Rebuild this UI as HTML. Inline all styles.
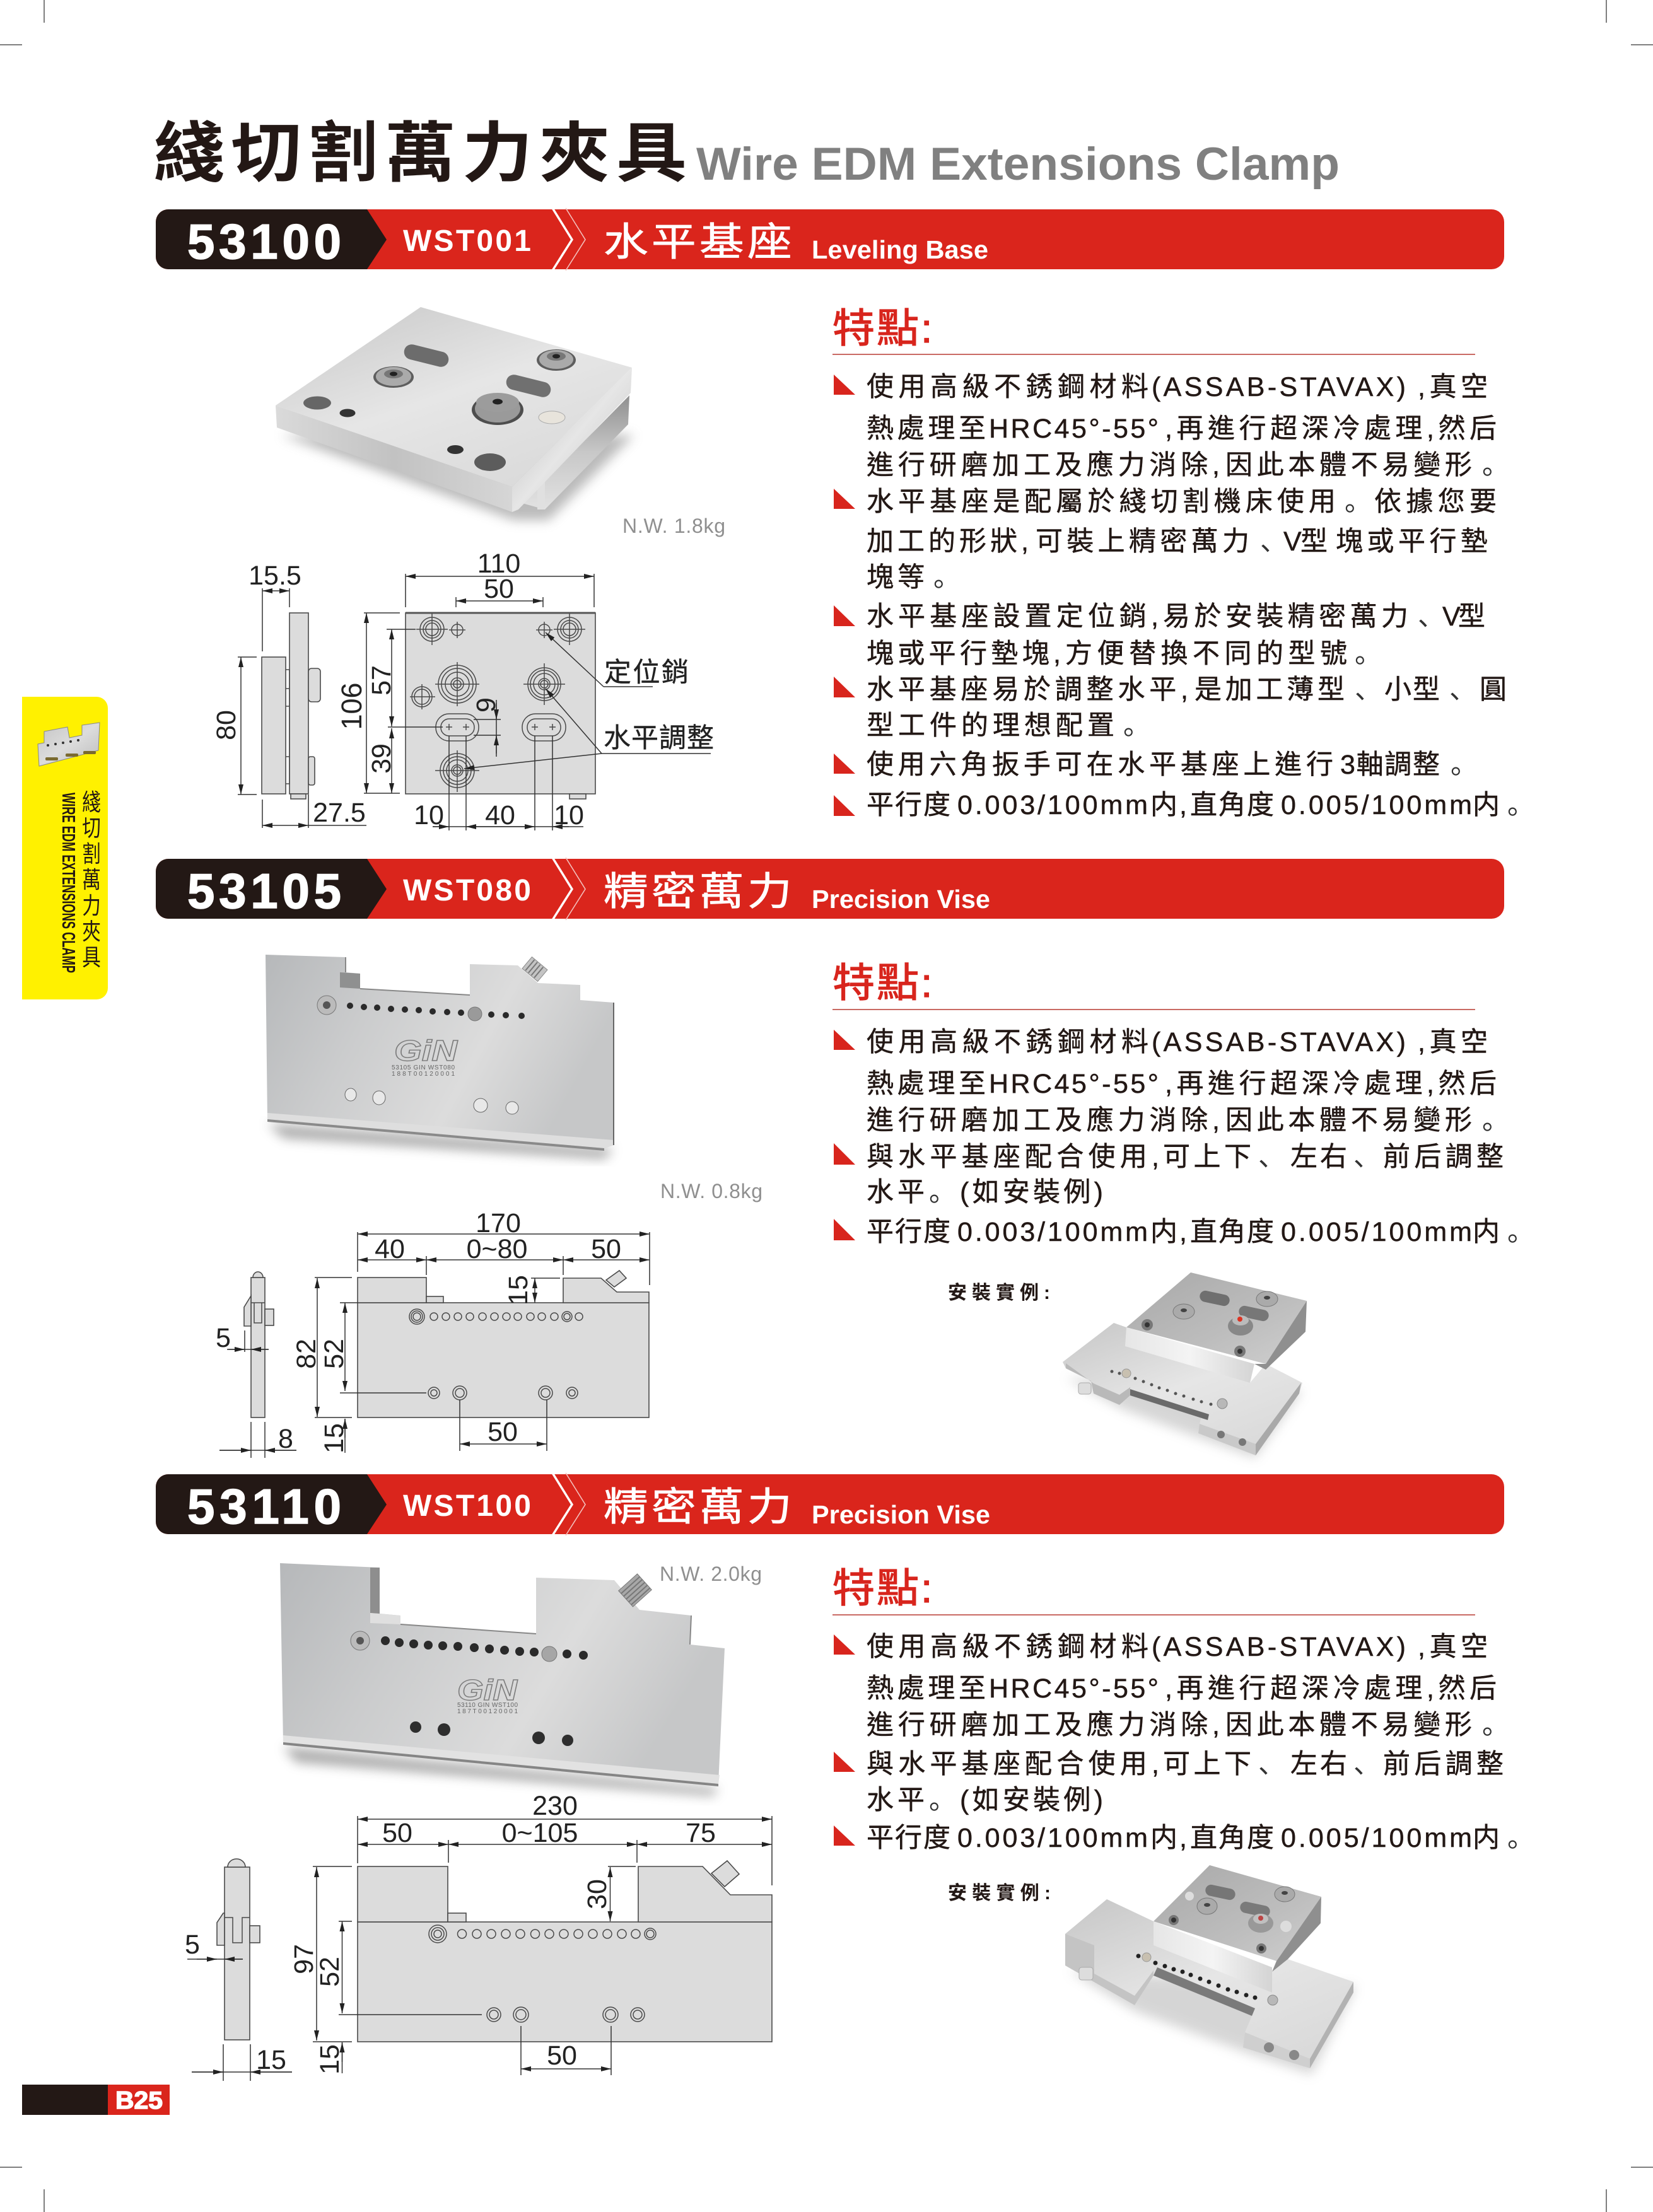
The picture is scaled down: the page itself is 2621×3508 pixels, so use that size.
<!DOCTYPE html>
<html lang="zh-Hant"><head><meta charset="utf-8"><title>Wire EDM Extensions Clamp</title>
<style>
html,body{margin:0;padding:0;background:#fff}
svg{display:block}
text{font-family:"Liberation Sans","Noto Sans CJK TC",sans-serif}
.b{font-size:43px;fill:#231815;stroke:#231815;stroke-width:.5}
.p{font-family:"Noto Sans CJK SC",sans-serif;font-size:43px;fill:#333}
.d{font-size:43px;fill:#222;text-anchor:middle}
.c{font-size:43px;fill:#222;stroke:#222;stroke-width:.4}
.n{font-size:32px;fill:#8f8f8f}
.h{font-size:64px;fill:#d8251d;stroke:#d8251d;stroke-width:1.2}
.w{fill:#fff}
.o{fill:#dcdcdc;stroke:#4a4a4a;stroke-width:1.6}
.r{fill:none;stroke:#4a4a4a;stroke-width:1.5}
.l{fill:none;stroke:#333;stroke-width:1.5}
.a{marker-start:url(#ar);marker-end:url(#ar);fill:none;stroke:#333;stroke-width:1.5}
.e{marker-end:url(#ar);fill:none;stroke:#333;stroke-width:1.5}
.t{fill:#d8251d}
.k{fill:#2a2a2a}
</style></head><body>
<svg width="2621" height="3508" viewBox="0 0 2621 3508">
<defs>
<marker id="ar" markerUnits="userSpaceOnUse" markerWidth="16" markerHeight="8" refX="16" refY="4" orient="auto-start-reverse"><path d="M0,0L16,4L0,8z" fill="#222"/></marker>
<linearGradient id="m1" x1="0" y1="0" x2="1" y2="1"><stop offset="0" stop-color="#c4c4c4"/><stop offset=".5" stop-color="#dcdcdc"/><stop offset="1" stop-color="#bcbcbc"/></linearGradient>
<linearGradient id="m2" x1="0" y1="0" x2="1" y2=".3"><stop offset="0" stop-color="#b6b8ba"/><stop offset=".35" stop-color="#cbcccd"/><stop offset=".7" stop-color="#dcdcdc"/><stop offset="1" stop-color="#c6c7c8"/></linearGradient>
<linearGradient id="m3" x1="0" y1="0" x2="0" y2="1"><stop offset="0" stop-color="#8f8f8f"/><stop offset=".5" stop-color="#c8c8c8"/><stop offset="1" stop-color="#e2e2e2"/></linearGradient>
<linearGradient id="m4" x1="0" y1="0" x2="1" y2="0"><stop offset="0" stop-color="#e6e6e6"/><stop offset=".5" stop-color="#f4f4f4"/><stop offset="1" stop-color="#d4d4d4"/></linearGradient>
<linearGradient id="m5" x1="0" y1="0" x2="1" y2="1"><stop offset="0" stop-color="#a8a8a8"/><stop offset=".6" stop-color="#bdbdbd"/><stop offset="1" stop-color="#cfcfcf"/></linearGradient>
<linearGradient id="m6" x1="0" y1="0" x2=".7" y2="1"><stop offset="0" stop-color="#c6c6c6"/><stop offset=".55" stop-color="#e6e6e6"/><stop offset="1" stop-color="#dadada"/></linearGradient>
<linearGradient id="m7" x1="0" y1="0" x2="1" y2="0"><stop offset="0" stop-color="#dadada"/><stop offset=".5" stop-color="#c2c2c2"/><stop offset="1" stop-color="#d6d6d6"/></linearGradient>
<linearGradient id="m8" x1="0" y1="0" x2="1" y2="1"><stop offset="0" stop-color="#b0b0b0"/><stop offset=".5" stop-color="#e6e6e6"/><stop offset="1" stop-color="#bcbcbc"/></linearGradient>
<filter id="bl" x="-20%" y="-20%" width="140%" height="140%"><feGaussianBlur stdDeviation="9"/></filter>
</defs>

<!-- crop marks -->
<g stroke="#555" stroke-width="1.5">
<path d="M0,71H35M70,0V36M2586,71H2621M2547,0V36M0,3437H35M70,3472V3508M2586,3437H2621M2547,3472V3508"/>
</g>

<!-- title -->
<text transform="translate(244,279) scale(1,.93)" x="0" y="0" font-size="112" font-weight="700" fill="#231815" textLength="845" lengthAdjust="spacing">綫切割萬力夾具</text>
<text x="1104" y="285" font-size="73" font-weight="700" fill="#808080" textLength="1020" lengthAdjust="spacingAndGlyphs">Wire EDM Extensions Clamp</text>

<!-- bar 1 -->
<g>
<rect x="247" y="332" width="2138" height="95" rx="20" fill="#da251c"/>
<path d="M582,332H267a20,20 0 0 0-20,20v55a20,20 0 0 0 20,20H582L613,380z" fill="#231815"/>
<path d="M876,330L907,380L876,429" fill="none" stroke="#fff" stroke-width="3.5"/>
<path d="M897,330L928,380L897,429" fill="none" stroke="#f3c0bc" stroke-width="1.6"/>
<text class="w" x="297" y="410" font-size="78" font-weight="700" stroke="#fff" stroke-width="1.5" textLength="244" lengthAdjust="spacing">53100</text>
<text class="w" x="639" y="398" font-size="48" font-weight="700" textLength="203" lengthAdjust="spacing">WST001</text>
<text class="w" transform="translate(957,405) scale(1.14,1)" font-size="62" stroke="#fff" stroke-width=".8" textLength="262" lengthAdjust="spacing">水平基座</text>
<text class="w" x="1287" y="410" font-size="41" font-weight="700" textLength="280" lengthAdjust="spacingAndGlyphs">Leveling Base</text>
</g>
<!-- bar 2 -->
<g>
<rect x="247" y="1362" width="2138" height="95" rx="20" fill="#da251c"/>
<path d="M582,1362H267a20,20 0 0 0-20,20v55a20,20 0 0 0 20,20H582L613,1410z" fill="#231815"/>
<path d="M876,1360L907,1410L876,1459" fill="none" stroke="#fff" stroke-width="3.5"/>
<path d="M897,1360L928,1410L897,1459" fill="none" stroke="#f3c0bc" stroke-width="1.6"/>
<text class="w" x="297" y="1440" font-size="78" font-weight="700" stroke="#fff" stroke-width="1.5" textLength="244" lengthAdjust="spacing">53105</text>
<text class="w" x="639" y="1428" font-size="48" font-weight="700" textLength="203" lengthAdjust="spacing">WST080</text>
<text class="w" transform="translate(957,1435) scale(1.14,1)" font-size="62" stroke="#fff" stroke-width=".8" textLength="262" lengthAdjust="spacing">精密萬力</text>
<text class="w" x="1287" y="1440" font-size="41" font-weight="700" textLength="283" lengthAdjust="spacingAndGlyphs">Precision Vise</text>
</g>
<!-- bar 3 -->
<g>
<rect x="247" y="2338" width="2138" height="95" rx="20" fill="#da251c"/>
<path d="M582,2338H267a20,20 0 0 0-20,20v55a20,20 0 0 0 20,20H582L613,2386z" fill="#231815"/>
<path d="M876,2336L907,2386L876,2435" fill="none" stroke="#fff" stroke-width="3.5"/>
<path d="M897,2336L928,2386L897,2435" fill="none" stroke="#f3c0bc" stroke-width="1.6"/>
<text class="w" x="297" y="2416" font-size="78" font-weight="700" stroke="#fff" stroke-width="1.5" textLength="244" lengthAdjust="spacing">53110</text>
<text class="w" x="639" y="2404" font-size="48" font-weight="700" textLength="203" lengthAdjust="spacing">WST100</text>
<text class="w" transform="translate(957,2411) scale(1.14,1)" font-size="62" stroke="#fff" stroke-width=".8" textLength="262" lengthAdjust="spacing">精密萬力</text>
<text class="w" x="1287" y="2416" font-size="41" font-weight="700" textLength="283" lengthAdjust="spacingAndGlyphs">Precision Vise</text>
</g>

<!-- side tab -->
<path d="M35,1105H153a18,18 0 0 1 18,18V1567a18,18 0 0 1-18,18H35z" fill="#fff100"/>
<polygon points="60,1180 70,1178 70,1160 107,1153 110,1170 130,1166 130,1150 158,1146 156,1190 62,1215" fill="url(#m1)" stroke="#888" stroke-width="1"/>
<g fill="#333"><circle cx="76" cy="1182" r="2"/><circle cx="88" cy="1180" r="2"/><circle cx="100" cy="1178" r="2"/><circle cx="112" cy="1176" r="2"/><circle cx="124" cy="1174" r="2"/></g>
<g fill="#7a6a30"><rect x="72" y="1201" width="20" height="5" rx="2"/><rect x="104" y="1195" width="20" height="5" rx="2"/><rect x="132" y="1191" width="20" height="5" rx="2"/></g>
<g transform="translate(145,0) scale(.8,1)" font-size="37" fill="#231815" text-anchor="middle">
<text x="0" y="1285">綫</text><text x="0" y="1326">切</text><text x="0" y="1367">割</text><text x="0" y="1408">萬</text><text x="0" y="1449">力</text><text x="0" y="1490">夾</text><text x="0" y="1531">具</text>
</g>
<text transform="translate(99,1257) rotate(90)" font-size="29" font-weight="700" fill="#231815" textLength="286" lengthAdjust="spacingAndGlyphs">WIRE EDM EXTENSIONS CLAMP</text>

<!-- page number -->
<rect x="35" y="3306" width="136" height="48" fill="#231815"/>
<rect x="171" y="3306" width="98" height="48" fill="#da251c"/>
<text x="183" y="3344" font-size="39" font-weight="700" fill="#fff" stroke="#fff" stroke-width="1.5" textLength="75" lengthAdjust="spacingAndGlyphs">B25</text>

<!-- section 1 text -->
<text class="h" transform="translate(1320,543) scale(1.05,1)" textLength="151" lengthAdjust="spacing">特點:</text>
<path d="M1320,562H2339" stroke="#c96a64" stroke-width="2"/>
<g class="t">
<polygon points="1322,594 1322,626 1356,626"/><polygon points="1322,775 1322,807 1356,807"/><polygon points="1322,960 1322,993 1356,993"/><polygon points="1322,1073 1322,1106 1356,1106"/><polygon points="1322,1195 1322,1227 1356,1227"/><polygon points="1322,1261 1322,1294 1356,1294"/>
</g>
<text class="b" x="1374" y="628" textLength="447" lengthAdjust="spacing">使用高級不銹鋼材料</text><text class="b" x="1826" y="628" textLength="403" lengthAdjust="spacing">(ASSAB-STAVAX)</text><text class="b" x="2248" y="628" textLength="111" lengthAdjust="spacing">,真空</text>
<text class="b" x="1374" y="694" textLength="189" lengthAdjust="spacing">熱處理至</text><text class="b" x="1568" y="694" textLength="269" lengthAdjust="spacing">HRC45°-55°</text><text class="b" x="1847" y="694" textLength="526" lengthAdjust="spacing">,再進行超深冷處理,然后</text>
<text class="b" x="1374" y="752" textLength="560" lengthAdjust="spacing">進行研磨加工及應力消除,</text><text class="b" x="1943" y="752" textLength="391" lengthAdjust="spacing">因此本體不易變形</text><text class="p" x="2350" y="752">。</text>
<text class="b" x="1374" y="810" textLength="744" lengthAdjust="spacing">水平基座是配屬於綫切割機床使用</text><text class="p" x="2132" y="810">。</text><text class="b" x="2179" y="810" textLength="194" lengthAdjust="spacing">依據您要</text>
<text class="b" x="1374" y="873" textLength="257" lengthAdjust="spacing">加工的形狀,</text><text class="b" x="1642" y="873" textLength="339" lengthAdjust="spacing">可裝上精密萬力</text><text class="p" x="1998" y="873">、</text><text class="b" x="2035" y="873" textLength="70" lengthAdjust="spacing">V型</text><text class="b" x="2118" y="873" textLength="241" lengthAdjust="spacing">塊或平行墊</text>
<text class="b" x="1374" y="930" textLength="92" lengthAdjust="spacing">塊等</text><text class="p" x="1480" y="930">。</text>
<text class="b" x="1374" y="992" textLength="463" lengthAdjust="spacing">水平基座設置定位銷,</text><text class="b" x="1844" y="992" textLength="389" lengthAdjust="spacing">易於安裝精密萬力</text><text class="p" x="2248" y="992">、</text><text class="b" x="2287" y="992" textLength="68" lengthAdjust="spacing">V型</text>
<text class="b" x="1374" y="1051" textLength="308" lengthAdjust="spacing">塊或平行墊塊,</text><text class="b" x="1689" y="1051" textLength="447" lengthAdjust="spacing">方便替換不同的型號</text><text class="p" x="2148" y="1051">。</text>
<text class="b" x="1374" y="1108" textLength="510" lengthAdjust="spacing">水平基座易於調整水平,</text><text class="b" x="1894" y="1108" textLength="238" lengthAdjust="spacing">是加工薄型</text><text class="p" x="2148" y="1108">、</text><text class="b" x="2195" y="1108" textLength="88" lengthAdjust="spacing">小型</text><text class="p" x="2298" y="1108">、</text><text class="b" x="2346" y="1108">圓</text>
<text class="b" x="1374" y="1165" textLength="393" lengthAdjust="spacing">型工件的理想配置</text><text class="p" x="1781" y="1165">。</text>
<text class="b" x="1374" y="1227" textLength="740" lengthAdjust="spacing">使用六角扳手可在水平基座上進行</text><text class="b" x="2125" y="1227" textLength="158" lengthAdjust="spacing">3軸調整</text><text class="p" x="2300" y="1227">。</text>
<text class="b" x="1374" y="1291" textLength="133" lengthAdjust="spacing">平行度</text><text class="b" x="1518" y="1291" textLength="302" lengthAdjust="spacing">0.003/100mm</text><text class="b" x="1824" y="1291">内</text><text class="b" x="1870" y="1291">,</text><text class="b" x="1887" y="1291" textLength="133" lengthAdjust="spacing">直角度</text><text class="b" x="2031" y="1291" textLength="303" lengthAdjust="spacing">0.005/100mm</text><text class="b" x="2335" y="1291">内</text><text class="p" x="2390" y="1291">。</text>

<!-- section 2 text -->
<text class="h" transform="translate(1320,1581) scale(1.05,1)" textLength="151" lengthAdjust="spacing">特點:</text>
<path d="M1320,1601H2339" stroke="#c96a64" stroke-width="2"/>
<g class="t">
<polygon points="1322,1633 1322,1665 1356,1665"/><polygon points="1322,1813 1322,1847 1356,1847"/><polygon points="1322,1933 1322,1967 1356,1967"/>
</g>
<text class="b" x="1374" y="1667" textLength="447" lengthAdjust="spacing">使用高級不銹鋼材料</text><text class="b" x="1826" y="1667" textLength="403" lengthAdjust="spacing">(ASSAB-STAVAX)</text><text class="b" x="2248" y="1667" textLength="111" lengthAdjust="spacing">,真空</text>
<text class="b" x="1374" y="1733" textLength="189" lengthAdjust="spacing">熱處理至</text><text class="b" x="1568" y="1733" textLength="269" lengthAdjust="spacing">HRC45°-55°</text><text class="b" x="1847" y="1733" textLength="526" lengthAdjust="spacing">,再進行超深冷處理,然后</text>
<text class="b" x="1374" y="1791" textLength="560" lengthAdjust="spacing">進行研磨加工及應力消除,</text><text class="b" x="1943" y="1791" textLength="391" lengthAdjust="spacing">因此本體不易變形</text><text class="p" x="2350" y="1791">。</text>
<text class="b" x="1374" y="1849" textLength="464" lengthAdjust="spacing">與水平基座配合使用,</text><text class="b" x="1844" y="1849" textLength="140" lengthAdjust="spacing">可上下</text><text class="p" x="1995" y="1849">、</text><text class="b" x="2046" y="1849" textLength="90" lengthAdjust="spacing">左右</text><text class="p" x="2146" y="1849">、</text><text class="b" x="2193" y="1849" textLength="191" lengthAdjust="spacing">前后調整</text>
<text class="b" x="1374" y="1905" textLength="92" lengthAdjust="spacing">水平</text><text class="p" x="1473" y="1905">。</text><text class="b" x="1522" y="1905" textLength="227" lengthAdjust="spacing">(如安裝例)</text>
<text class="b" x="1374" y="1968" textLength="133" lengthAdjust="spacing">平行度</text><text class="b" x="1518" y="1968" textLength="302" lengthAdjust="spacing">0.003/100mm</text><text class="b" x="1824" y="1968">内</text><text class="b" x="1870" y="1968">,</text><text class="b" x="1887" y="1968" textLength="133" lengthAdjust="spacing">直角度</text><text class="b" x="2031" y="1968" textLength="303" lengthAdjust="spacing">0.005/100mm</text><text class="b" x="2335" y="1968">内</text><text class="p" x="2390" y="1968">。</text>
<text x="1503" y="2060" font-size="30" font-weight="700" fill="#231815" textLength="162" lengthAdjust="spacing">安裝實例:</text>

<!-- section 3 text -->
<text class="h" transform="translate(1320,2541) scale(1.05,1)" textLength="151" lengthAdjust="spacing">特點:</text>
<path d="M1320,2561H2339" stroke="#c96a64" stroke-width="2"/>
<g class="t">
<polygon points="1322,2592 1322,2624 1356,2624"/><polygon points="1322,2778 1322,2810 1356,2810"/><polygon points="1322,2895 1322,2927 1356,2927"/>
</g>
<text class="b" x="1374" y="2626" textLength="447" lengthAdjust="spacing">使用高級不銹鋼材料</text><text class="b" x="1826" y="2626" textLength="403" lengthAdjust="spacing">(ASSAB-STAVAX)</text><text class="b" x="2248" y="2626" textLength="111" lengthAdjust="spacing">,真空</text>
<text class="b" x="1374" y="2692" textLength="189" lengthAdjust="spacing">熱處理至</text><text class="b" x="1568" y="2692" textLength="269" lengthAdjust="spacing">HRC45°-55°</text><text class="b" x="1847" y="2692" textLength="526" lengthAdjust="spacing">,再進行超深冷處理,然后</text>
<text class="b" x="1374" y="2750" textLength="560" lengthAdjust="spacing">進行研磨加工及應力消除,</text><text class="b" x="1943" y="2750" textLength="391" lengthAdjust="spacing">因此本體不易變形</text><text class="p" x="2350" y="2750">。</text>
<text class="b" x="1374" y="2812" textLength="464" lengthAdjust="spacing">與水平基座配合使用,</text><text class="b" x="1844" y="2812" textLength="140" lengthAdjust="spacing">可上下</text><text class="p" x="1995" y="2812">、</text><text class="b" x="2046" y="2812" textLength="90" lengthAdjust="spacing">左右</text><text class="p" x="2146" y="2812">、</text><text class="b" x="2193" y="2812" textLength="191" lengthAdjust="spacing">前后調整</text>
<text class="b" x="1374" y="2869" textLength="92" lengthAdjust="spacing">水平</text><text class="p" x="1473" y="2869">。</text><text class="b" x="1522" y="2869" textLength="227" lengthAdjust="spacing">(如安裝例)</text>
<text class="b" x="1374" y="2929" textLength="133" lengthAdjust="spacing">平行度</text><text class="b" x="1518" y="2929" textLength="302" lengthAdjust="spacing">0.003/100mm</text><text class="b" x="1824" y="2929">内</text><text class="b" x="1870" y="2929">,</text><text class="b" x="1887" y="2929" textLength="133" lengthAdjust="spacing">直角度</text><text class="b" x="2031" y="2929" textLength="303" lengthAdjust="spacing">0.005/100mm</text><text class="b" x="2335" y="2929">内</text><text class="p" x="2390" y="2929">。</text>
<text x="1503" y="3012" font-size="30" font-weight="700" fill="#231815" textLength="163" lengthAdjust="spacing">安裝實例:</text>

<!-- photo 1 -->
<polygon points="445,690 815,825 870,825 1005,690" fill="#777" opacity=".5" filter="url(#bl)"/>
<polygon points="828,798 864,763 998,627 996,673 864,808" fill="url(#m3)"/>
<polygon points="864,763 864,808 852,808 852,772" fill="#e0e0e0"/>
<polygon points="667,487 1002,583 812,772 437,643" fill="url(#m6)"/>
<polygon points="437,643 812,772 812,812 439,678" fill="url(#m7)"/>
<polygon points="1002,583 1000,623 822,808 812,812 812,772" fill="url(#m8)"/>
<rect x="640" y="552" width="72" height="24" rx="12" transform="rotate(14 676 564)" fill="#6c6c6c"/>
<rect x="802" y="600" width="72" height="24" rx="12" transform="rotate(14 838 612)" fill="#707070"/>
<ellipse cx="882" cy="571" rx="31" ry="17" fill="#5e5e5e"/><ellipse cx="882" cy="570" rx="27" ry="15" fill="#aaa"/><ellipse cx="882" cy="565" rx="15" ry="7" fill="#777"/><ellipse cx="882" cy="565" rx="6" ry="3.5" fill="#222"/>
<ellipse cx="624" cy="598" rx="32" ry="17" fill="#5e5e5e"/><ellipse cx="624" cy="597" rx="28" ry="15" fill="#aaa"/><ellipse cx="624" cy="593" rx="15" ry="7" fill="#777"/><ellipse cx="624" cy="593" rx="6" ry="3.5" fill="#222"/>
<ellipse cx="789" cy="650" rx="41" ry="24" fill="#4e4e4e"/><ellipse cx="789" cy="648" rx="36" ry="22" fill="#9a9a9a"/><ellipse cx="789" cy="638" rx="34" ry="15" fill="#9c9c9c"/><ellipse cx="789" cy="637" rx="8" ry="4.5" fill="#222"/>
<ellipse cx="503" cy="639" rx="22" ry="10.5" fill="#666"/><ellipse cx="551" cy="655" rx="12.5" ry="6.5" fill="#333"/><ellipse cx="722" cy="713" rx="13" ry="7" fill="#333"/><ellipse cx="777" cy="733" rx="25" ry="14" fill="#5c5c5c"/>
<ellipse cx="875" cy="662" rx="21" ry="10" fill="#e8e4dc" stroke="#aaa"/>
<text class="n" x="987" y="845" textLength="163" lengthAdjust="spacing">N.W. 1.8kg</text>

<!-- drawing 1 -->
<rect class="o" x="643" y="972" width="301" height="287"/>
<path d="M643,972H944" stroke="#555" stroke-width="3"/>
<rect class="o" x="459" y="972" width="30" height="287"/>
<rect class="o" x="415" y="1042" width="38" height="217"/>
<path class="r" d="M453,1062H459V1243H453M453,1092H459M453,1120H459M453,1200H459"/>
<rect class="o" x="489" y="1060" width="19" height="53" rx="5"/>
<rect class="o" x="489" y="1200" width="10" height="45" rx="3"/>
<rect class="o" x="461" y="1259" width="24" height="8"/>
<rect class="o" x="903" y="1259" width="26" height="8"/>
<g class="r">
<circle cx="685" cy="998" r="19"/><circle cx="685" cy="998" r="14"/><circle cx="685" cy="998" r="10"/>
<circle cx="725" cy="999" r="9"/><circle cx="863" cy="999" r="9"/>
<circle cx="903" cy="998" r="19"/><circle cx="903" cy="998" r="14"/><circle cx="903" cy="998" r="10"/>
<circle cx="725" cy="1085" r="30"/><circle cx="725" cy="1085" r="25"/><circle cx="725" cy="1085" r="19"/><circle cx="725" cy="1085" r="10"/><circle cx="725" cy="1085" r="6"/>
<circle cx="863" cy="1085" r="26"/><circle cx="863" cy="1085" r="22"/><circle cx="863" cy="1085" r="17"/><circle cx="863" cy="1085" r="9"/><circle cx="863" cy="1085" r="6"/>
<circle cx="669" cy="1105" r="16"/><circle cx="669" cy="1105" r="12"/>
<circle cx="725" cy="1222" r="27"/><circle cx="725" cy="1222" r="22"/><circle cx="725" cy="1222" r="17"/><circle cx="725" cy="1222" r="9"/><circle cx="725" cy="1222" r="6"/>
<rect x="691" y="1132" width="68" height="43" rx="21"/><rect x="699" y="1140" width="53" height="27" rx="13"/>
<rect x="828" y="1132" width="69" height="43" rx="21"/><rect x="836" y="1140" width="53" height="27" rx="13"/>
<path d="M660,998H710M685,973V1023M712,999H738M725,986V1012M850,999H876M863,986V1012M878,998H928M903,973V1023M690,1085H760M725,1050V1120M830,1085H896M863,1052V1118M650,1105H690M669,1085V1125M690,1222H760M725,1190V1256M707,1153H717M712,1148V1158M734,1153H744M739,1148V1158M843,1153H853M848,1148V1158M871,1153H881M876,1148V1158"/>
</g>
<g>
<path class="a" d="M643,914H942"/><path class="l" d="M643,910V963M942,910V963"/>
<path class="a" d="M723,953H861"/><path class="l" d="M723,947V963M861,947V963"/>
<path class="a" d="M416,937H459"/><path class="l" d="M416,933V1033M459,933V963"/>
<path class="a" d="M382,1042V1260"/><path class="l" d="M377,1042H407M377,1260H407"/>
<path class="a" d="M581,972V1258"/><path class="l" d="M577,972H634M577,1258H634"/>
<path class="a" d="M621,998V1152"/><path class="a" d="M621,1155V1258"/>
<path class="l" d="M613,998H659M615,1153H702"/>
<path class="l" d="M787,1110V1200M751,1141H794M751,1166H794"/>
<path class="e" d="M787,1115V1141"/><path class="e" d="M787,1195V1166"/>
<path class="l" d="M712,1167V1317M739,1167V1317M848,1167V1317M876,1167V1317"/>
<path class="l" d="M686,1311H925"/><path class="e" d="M686,1311H712"/><path class="e" d="M765,1311H739"/><path class="e" d="M765,1311H848"/><path class="e" d="M902,1311H876"/>
<path class="l" d="M489,1309H581M416,1268V1313M489,1260V1313"/><path class="a" d="M416,1309H489"/>
<path class="e" d="M957,1089L865,1003"/><path class="l" d="M957,1089H1035"/>
<path class="e" d="M954,1195L865,1092"/><path class="e" d="M954,1195L736,1219"/><path class="l" d="M954,1195H1127"/>
</g>
<text class="d" x="791" y="908">110</text>
<text class="d" x="791" y="948">50</text>
<text class="d" x="436" y="927">15.5</text>
<text class="d" x="538" y="1303">27.5</text>
<text class="d" x="680" y="1307">10</text>
<text class="d" x="793" y="1307">40</text>
<text class="d" x="902" y="1307">10</text>
<text class="d" transform="translate(373,1150) rotate(-90)">80</text>
<text class="d" transform="translate(573,1120) rotate(-90)" style="font-size:45px">106</text>
<text class="d" transform="translate(619,1079) rotate(-90)">57</text>
<text class="d" transform="translate(619,1203) rotate(-90)">39</text>
<text class="d" transform="translate(785,1118) rotate(-90)">9</text>
<text class="c" x="958" y="1081" textLength="134" lengthAdjust="spacing">定位銷</text>
<text class="c" x="957" y="1185" textLength="175" lengthAdjust="spacing">水平調整</text>

<!-- photo 2 -->
<polygon points="424,1782 973,1822 958,1838 450,1805" fill="#666" opacity=".55" filter="url(#bl)"/>
<polygon points="421,1514 548,1518 548,1542 571,1544 571,1568 745,1578 745,1529 821,1531 853,1559 920,1562 920,1586 973,1590 973,1816 958,1821 424,1775" fill="url(#m2)"/>
<polygon points="424,1775 958,1821 973,1816 973,1808 424,1765" fill="#dedede"/>
<polygon points="424,1775 958,1821 958,1825 424,1779" fill="#8a8a8a"/>
<polygon points="539,1542 571,1544 571,1568 539,1566" fill="#8f9090"/>
<path d="M548,1518V1542M571,1568L745,1578" stroke="#888" stroke-width="2" fill="none"/>
<path d="M973,1590V1816" stroke="#666" stroke-width="2"/>
<g transform="rotate(40 848 1537)"><rect x="832" y="1525" width="32" height="24" fill="#c4c4c4" stroke="#888"/><path d="M838,1526V1548M844,1526V1548M850,1526V1548M856,1526V1548" stroke="#777" stroke-width="2"/></g>
<circle cx="518" cy="1594" r="15" fill="#bbb" stroke="#777"/><circle cx="518" cy="1594" r="6" fill="#555"/>
<g class="k">
<circle cx="555" cy="1595" r="5"/><circle cx="577" cy="1597" r="5"/><circle cx="598" cy="1598" r="5"/><circle cx="620" cy="1600" r="5"/><circle cx="642" cy="1601" r="5"/><circle cx="664" cy="1602" r="5"/><circle cx="686" cy="1604" r="5"/><circle cx="709" cy="1605" r="5"/><circle cx="731" cy="1606" r="5"/><circle cx="779" cy="1609" r="5"/><circle cx="802" cy="1610" r="5"/><circle cx="827" cy="1611" r="5"/>
</g>
<circle cx="753" cy="1608" r="11" fill="#9a9a9a" stroke="#777"/>
<g fill="#e8e8e8" stroke="#666"><ellipse cx="556" cy="1736" rx="9" ry="10"/><ellipse cx="601" cy="1741" rx="10" ry="11"/><ellipse cx="762" cy="1753" rx="11" ry="11"/><ellipse cx="812" cy="1757" rx="10" ry="10"/></g>
<text x="625" y="1682" font-size="46" font-style="italic" font-weight="700" fill="none" stroke="#7c7c7c" stroke-width="1.4" textLength="100" lengthAdjust="spacingAndGlyphs">GiN</text>
<text x="621" y="1696" font-size="10" fill="#666" textLength="100" lengthAdjust="spacing">53105 GIN WST080</text>
<text x="621" y="1706" font-size="10" fill="#666" textLength="100" lengthAdjust="spacing">188T00120001</text>
<text class="n" x="1047" y="1900" textLength="162" lengthAdjust="spacing">N.W. 0.8kg</text>

<!-- drawing 2 -->
<rect class="o" x="567" y="2066" width="462" height="182"/>
<rect class="o" x="567" y="2026" width="109" height="40"/>
<rect class="o" x="676" y="2056" width="27" height="10"/>
<polygon class="o" points="961,2030 982,2015 993,2027 974,2041"/>
<polygon class="o" points="893,2066 893,2027 953,2027 978,2049 1029,2049 1029,2066"/>
<g class="r">
<circle cx="661" cy="2088" r="12"/><circle cx="661" cy="2088" r="9"/><circle cx="661" cy="2088" r="6"/>
<circle cx="688" cy="2088" r="6"/><circle cx="707" cy="2088" r="6"/><circle cx="726" cy="2088" r="6"/><circle cx="745" cy="2088" r="6"/><circle cx="765" cy="2088" r="6"/><circle cx="784" cy="2088" r="6"/><circle cx="803" cy="2088" r="6"/><circle cx="821" cy="2088" r="6"/><circle cx="841" cy="2088" r="6"/><circle cx="859" cy="2088" r="6"/><circle cx="879" cy="2088" r="6"/><circle cx="899" cy="2088" r="8"/><circle cx="899" cy="2088" r="5"/><circle cx="918" cy="2088" r="6"/>
<circle cx="688" cy="2209" r="9"/><circle cx="688" cy="2209" r="5"/><circle cx="729" cy="2209" r="11"/><circle cx="729" cy="2209" r="7"/><circle cx="865" cy="2209" r="11"/><circle cx="865" cy="2209" r="7"/><circle cx="907" cy="2209" r="9"/><circle cx="907" cy="2209" r="5"/>
</g>
<rect class="o" x="398" y="2026" width="22" height="222"/>
<path class="o" d="M401,2026a8,9 0 0 1 16,0z"/>
<polygon class="o" points="398,2055 387,2073 387,2103 398,2103"/>
<rect class="o" x="420" y="2076" width="14" height="26"/>
<path class="r" d="M403,2066V2098H415V2066M398,2066H420"/>
<g>
<path class="a" d="M567,1957H1030"/><path class="a" d="M567,1998H676"/><path class="a" d="M676,1998H893"/><path class="a" d="M893,1998H1030"/>
<path class="l" d="M567,1954V2017M676,1992V2022M893,1992V2022M1030,1954V2038"/>
<path class="a" d="M503,2027V2247"/><path class="l" d="M499,2026H558M499,2248H558"/>
<path class="a" d="M547,2066V2206"/><path class="l" d="M539,2066H567M539,2209H676M547,2250V2304"/>
<path class="e" d="M547,2280V2250"/>
<path class="a" d="M848,2027V2066"/><path class="l" d="M842,2027H888"/>
<path class="a" d="M729,2290H867"/><path class="l" d="M729,2220V2301M867,2220V2301"/>
<path class="l" d="M360,2140H426M388,2110V2144"/><path class="e" d="M362,2140H388"/><path class="e" d="M426,2140H398"/>
<path class="l" d="M348,2300H470M398,2255V2312M420,2255V2312"/><path class="e" d="M348,2300H398"/><path class="e" d="M470,2300H420"/>
</g>
<text class="d" x="790" y="1954">170</text>
<text class="d" x="618" y="1995">40</text>
<text class="d" x="788" y="1995">0~80</text>
<text class="d" x="961" y="1995">50</text>
<text class="d" x="797" y="2285">50</text>
<text class="d" x="354" y="2136">5</text>
<text class="d" x="453" y="2296">8</text>
<text class="d" transform="translate(500,2147) rotate(-90)">82</text>
<text class="d" transform="translate(544,2147) rotate(-90)">52</text>
<text class="d" transform="translate(544,2281) rotate(-90)">15</text>
<text class="d" transform="translate(836,2046) rotate(-90)">15</text>

<!-- photo 3 -->
<polygon points="449,2770 1139,2836 1130,2848 470,2795" fill="#666" opacity=".55" filter="url(#bl)"/>
<polygon points="444,2479 602,2486 602,2559 635,2562 635,2576 850,2591 850,2502 974,2506 1014,2553 1096,2562 1094,2608 1149,2614 1139,2829 449,2763" fill="url(#m2)"/>
<polygon points="449,2763 1139,2829 1141,2815 449,2752" fill="#e2e2e2"/>
<polygon points="449,2763 1139,2829 1139,2833 449,2767" fill="#858585"/>
<polygon points="587,2486 602,2486 602,2559 587,2558" fill="#8e8e8e"/>
<polygon points="587,2558 635,2562 635,2576 587,2574" fill="#dfdfdf"/>
<path d="M1096,2562L1094,2608M635,2576L850,2591" stroke="#888" stroke-width="2" fill="none"/>
<g transform="rotate(-42 1007 2522)"><rect x="987" y="2505" width="40" height="34" fill="#a8a8a8" stroke="#777"/><path d="M987,2511H1027M987,2517H1027M987,2523H1027M987,2529H1027M987,2535H1027" stroke="#777" stroke-width="2"/></g>
<circle cx="571" cy="2602" r="15" fill="#bbb" stroke="#777"/><circle cx="571" cy="2602" r="6" fill="#555"/>
<g class="k">
<circle cx="611" cy="2602" r="7"/><circle cx="633" cy="2605" r="7"/><circle cx="656" cy="2607" r="7"/><circle cx="679" cy="2609" r="7"/><circle cx="702" cy="2610" r="7"/><circle cx="726" cy="2611" r="7"/><circle cx="752" cy="2613" r="7"/><circle cx="776" cy="2615" r="7"/><circle cx="800" cy="2617" r="7"/><circle cx="824" cy="2619" r="7"/><circle cx="847" cy="2620" r="7"/><circle cx="899" cy="2623" r="7"/><circle cx="925" cy="2625" r="7"/>
</g>
<circle cx="871" cy="2623" r="12" fill="#a6a6a6" stroke="#777"/>
<g fill="#2e2e2e"><ellipse cx="659" cy="2739" rx="9" ry="9"/><ellipse cx="704" cy="2743" rx="10" ry="10"/><ellipse cx="854" cy="2756" rx="10" ry="10"/><ellipse cx="900" cy="2760" rx="9" ry="9"/></g>
<text x="725" y="2696" font-size="46" font-style="italic" font-weight="700" fill="none" stroke="#7c7c7c" stroke-width="1.4" textLength="95" lengthAdjust="spacingAndGlyphs">GiN</text>
<text x="725" y="2707" font-size="10" fill="#666" textLength="96" lengthAdjust="spacing">53110 GIN WST100</text>
<text x="725" y="2717" font-size="10" fill="#666" textLength="96" lengthAdjust="spacing">187T00120001</text>
<text class="n" x="1046" y="2507" textLength="162" lengthAdjust="spacing">N.W. 2.0kg</text>

<!-- drawing 3 -->
<rect class="o" x="567" y="3048" width="657" height="190"/>
<rect class="o" x="567" y="2960" width="143" height="88"/>
<rect class="o" x="710" y="3034" width="29" height="14"/>
<polygon class="o" points="1128,2971 1153,2951 1172,2972 1149,2992"/>
<polygon class="o" points="1012,3048 1012,2960 1114,2960 1158,3005 1224,3005 1224,3048"/>
<g class="r">
<circle cx="694" cy="3067" r="14"/><circle cx="694" cy="3067" r="10"/><circle cx="694" cy="3067" r="6"/>
<circle cx="732.5" cy="3067" r="7"/><circle cx="756" cy="3067" r="7"/><circle cx="779" cy="3067" r="7"/><circle cx="802" cy="3067" r="7"/><circle cx="825" cy="3067" r="7"/><circle cx="848.5" cy="3067" r="7"/><circle cx="871" cy="3067" r="7"/><circle cx="894" cy="3067" r="7"/><circle cx="917" cy="3067" r="7"/><circle cx="940" cy="3067" r="7"/><circle cx="963" cy="3067" r="7"/><circle cx="986" cy="3067" r="7"/><circle cx="1008" cy="3067" r="7"/><circle cx="1031" cy="3067" r="9"/><circle cx="1031" cy="3067" r="6"/>
<circle cx="783" cy="3195" r="11"/><circle cx="783" cy="3195" r="7"/><circle cx="826" cy="3195" r="12"/><circle cx="826" cy="3195" r="8"/><circle cx="968" cy="3195" r="12"/><circle cx="968" cy="3195" r="8"/><circle cx="1011" cy="3195" r="11"/><circle cx="1011" cy="3195" r="7"/>
</g>
<rect class="o" x="356" y="2961" width="40" height="274"/>
<path class="o" d="M361,2961a14,13 0 0 1 28,0z"/>
<polygon class="o" points="354,3034 344,3049 344,3085 356,3085 356,3034"/>
<rect class="o" x="396" y="3054" width="16" height="27"/>
<path class="r" d="M356,3041H369V3081H384V3041H396"/>
<g>
<path class="a" d="M567,2885H1224"/><path class="a" d="M567,2925H711"/><path class="a" d="M711,2925H1010"/><path class="a" d="M1010,2925H1224"/>
<path class="l" d="M567,2880V2955M711,2918V2954M1010,2918V2954M1224,2880V2990"/>
<path class="a" d="M502,2961V3236"/><path class="l" d="M496,2960H558M496,3238H558"/>
<path class="a" d="M542.5,3047V3193"/><path class="l" d="M537,3047H558M537,3195H764M542.5,3239V3288"/>
<path class="e" d="M542.5,3270V3239"/>
<path class="a" d="M967.5,2961V3047"/><path class="l" d="M964,2960H1008"/>
<path class="a" d="M826,3281H969"/><path class="l" d="M826,3213V3291M969,3213V3291"/>
<path class="l" d="M297,3107H385"/><path class="e" d="M312,3107H344"/><path class="e" d="M385,3107H356"/>
<path class="l" d="M304,3286H463M354,3242V3300M397,3242V3300"/><path class="e" d="M304,3286H354"/><path class="e" d="M463,3286H397"/>
</g>
<text class="d" x="880" y="2878">230</text>
<text class="d" x="630" y="2921">50</text>
<text class="d" x="856" y="2921">0~105</text>
<text class="d" x="1111" y="2921">75</text>
<text class="d" x="891" y="3274">50</text>
<text class="d" x="305" y="3098">5</text>
<text class="d" x="430" y="3281">15</text>
<text class="d" transform="translate(496,3107) rotate(-90)">97</text>
<text class="d" transform="translate(537,3127) rotate(-90)">52</text>
<text class="d" transform="translate(537,3266) rotate(-90)">15</text>
<text class="d" transform="translate(961,3004) rotate(-90)">30</text>

<!-- install photo 1 -->
<polygon points="1690,2185 1780,2235 1900,2280 1990,2312 2065,2205" fill="#999" opacity=".4" filter="url(#bl)"/>
<polygon points="1766,2098 1786,2105 1982,2193 2007,2163 2065,2193 2060,2210 1991,2308 1900,2273 1902,2258 1906,2243 1792,2203 1792,2213 1775,2228 1734,2210 1730,2190 1690,2170 1685,2160" fill="url(#m6)"/>
<polygon points="1792,2203 1917,2243 1915,2252 1792,2213" fill="#6a6a6a"/>
<polygon points="1902,2258 1991,2290 1991,2308 1900,2273" fill="#c9c9c9"/>
<polygon points="1991,2290 2063,2193 2060,2210 1991,2308" fill="#a9a9a9"/>
<polygon points="1690,2170 1730,2190 1734,2210 1775,2228 1792,2213 1792,2200 1775,2212 1734,2194 1690,2162" fill="#b9b9b9"/>
<polygon points="1888,2018 2072,2063 2007,2163 1786,2105" fill="url(#m5)"/>
<polygon points="1786,2105 1989,2163 1982,2193 1784,2135" fill="url(#m4)"/>
<polygon points="2072,2063 2070,2112 2007,2172 1989,2163 2007,2163" fill="#8f8f8f"/>
<rect x="1902" y="2050" width="48" height="18" rx="9" fill="#6f6f6f" transform="rotate(12 1926 2059)"/><rect x="1964" y="2074" width="48" height="18" rx="9" fill="#777" transform="rotate(12 1988 2083)"/>
<ellipse cx="1877" cy="2080" rx="17" ry="12" fill="#aaa" stroke="#777"/><ellipse cx="1877" cy="2078" rx="5" ry="3" fill="#444"/><ellipse cx="2009" cy="2060" rx="17" ry="12" fill="#aaa" stroke="#777"/><ellipse cx="2009" cy="2058" rx="5" ry="3" fill="#444"/>
<ellipse cx="1967" cy="2103" rx="20" ry="15" fill="#888"/><ellipse cx="1967" cy="2094" rx="13" ry="8" fill="#bbb"/><circle cx="1966" cy="2092" r="4" fill="#d32"/>
<circle cx="1819" cy="2101" r="9" fill="#777"/><circle cx="1819" cy="2101" r="4" fill="#333"/><circle cx="1966" cy="2143" r="9" fill="#777"/><circle cx="1966" cy="2143" r="4" fill="#333"/>
<g fill="#555"><circle cx="1763" cy="2175" r="2.5"/><circle cx="1775" cy="2178" r="2.5"/><circle cx="1800" cy="2186" r="2.5"/><circle cx="1813" cy="2191" r="2.5"/><circle cx="1826" cy="2196" r="2.5"/><circle cx="1838" cy="2201" r="2.5"/><circle cx="1851" cy="2205" r="2.5"/><circle cx="1864" cy="2210" r="2.5"/><circle cx="1877" cy="2214" r="2.5"/><circle cx="1892" cy="2219" r="2.5"/><circle cx="1905" cy="2223" r="2.5"/><circle cx="1920" cy="2227" r="2.5"/></g>
<rect x="1710" y="2193" width="20" height="18" rx="4" fill="#ddd" stroke="#aaa"/>
<circle cx="1938" cy="2226" r="8" fill="#b8b8b8" stroke="#888"/><circle cx="1786" cy="2178" r="7" fill="#c8c0b0" stroke="#999"/>
<circle cx="1936" cy="2275" r="6" fill="#777"/><circle cx="1970" cy="2287" r="6" fill="#777"/>

<!-- install photo 2 -->
<polygon points="1695,3125 1800,3190 1975,3255 2080,3290 2150,3150" fill="#999" opacity=".4" filter="url(#bl)"/>
<polygon points="1755,3012 1829,3047 1918,3100 2017,3127 2042,3107 2146,3143 2077,3280 1971,3247 1974,3223 1985,3197 1829,3133 1799,3180 1689,3117 1689,3067" fill="url(#m6)"/>
<polygon points="1829,3133 1985,3197 1990,3185 1835,3120" fill="#7a7a7a"/>
<polygon points="1689,3067 1735,3085 1735,3130 1799,3165 1829,3125 1829,3133 1799,3180 1689,3117" fill="#c4c4c4"/>
<polygon points="1974,3223 2077,3265 2077,3280 1971,3247" fill="#cfcfcf"/>
<polygon points="2077,3265 2146,3143 2146,3160 2077,3280" fill="#b2b2b2"/>
<polygon points="1918,2958 2095,3008 2024,3110 1829,3047" fill="url(#m5)"/>
<polygon points="1829,3047 2017,3120 2017,3127 2017,3160 1829,3085" fill="url(#m4)"/>
<polygon points="2095,3008 2094,3050 2042,3107 2017,3127 2024,3110" fill="#8f8f8f"/>
<rect x="1911" y="2992" width="48" height="18" rx="9" fill="#767676" transform="rotate(12 1935 3001)"/><rect x="1966" y="3019" width="48" height="18" rx="9" fill="#7a7a7a" transform="rotate(12 1990 3028)"/>
<ellipse cx="1914" cy="3023" rx="16" ry="13" fill="#aaa" stroke="#777"/><ellipse cx="1914" cy="3021" rx="5" ry="3" fill="#444"/><ellipse cx="2037" cy="3004" rx="16" ry="12" fill="#aaa" stroke="#777"/><ellipse cx="2037" cy="3002" rx="5" ry="3" fill="#444"/>
<ellipse cx="1999" cy="3050" rx="20" ry="15" fill="#999"/><ellipse cx="1999" cy="3043" rx="12" ry="8" fill="#c0c0c0"/><circle cx="1999" cy="3042" r="4" fill="#b44"/>
<circle cx="1861" cy="3045" r="8" fill="#777"/><circle cx="1861" cy="3045" r="4" fill="#333"/><circle cx="2000" cy="3090" r="8" fill="#777"/><circle cx="2000" cy="3090" r="4" fill="#333"/><circle cx="2039" cy="3055" r="9" fill="#ddd"/><circle cx="1886" cy="3007" r="7" fill="#ddd"/>
<g fill="#222"><circle cx="1805" cy="3102" r="3.5"/><circle cx="1832" cy="3113" r="3.5"/><circle cx="1847" cy="3118" r="3.5"/><circle cx="1861" cy="3123" r="3.5"/><circle cx="1875" cy="3127" r="3.5"/><circle cx="1888" cy="3132" r="3.5"/><circle cx="1903" cy="3138" r="3.5"/><circle cx="1917" cy="3143" r="3.5"/><circle cx="1932" cy="3149" r="3.5"/><circle cx="1947" cy="3155" r="3.5"/><circle cx="1961" cy="3159" r="3.5"/><circle cx="1976" cy="3164" r="3.5"/><circle cx="1990" cy="3168" r="3.5"/></g>
<rect x="1711" y="3120" width="22" height="20" rx="4" fill="#ddd" stroke="#aaa"/>
<circle cx="2018" cy="3172" r="8" fill="#b8b8b8" stroke="#888"/><circle cx="1818" cy="3104" r="7" fill="#c8c0b0" stroke="#999"/>
<circle cx="2012" cy="3247" r="8" fill="#888"/><circle cx="2052" cy="3259" r="8" fill="#888"/>
</svg>
</body></html>
